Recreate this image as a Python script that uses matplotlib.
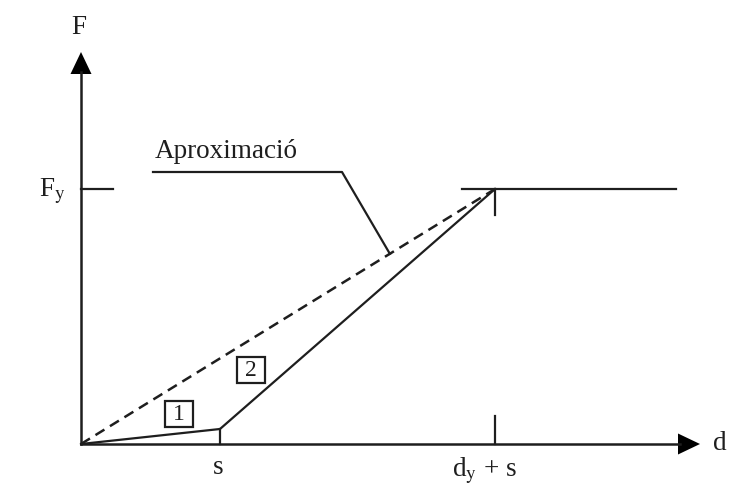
import matplotlib
matplotlib.use("Agg")
import matplotlib.pyplot as plt
from matplotlib.patches import Rectangle

plt.rcParams["font.family"] = ["Liberation Serif", "DejaVu Serif"]
plt.rcParams["mathtext.fontset"] = "stix"

# schematic values (arbitrary units)
s = 1.39          # slip
dy = 2.75         # yield displacement
Fy = 2.55         # yield force
Fs = 0.15         # force reached at end of slip
d_end = 5.95      # end of plateau
x_max = 6.19      # end of d axis
y_max = 3.92      # end of F axis

# curve branches
branch_x = [0, s, s + dy, d_end]
branch_y = [0, Fs, Fy, Fy]

# annotation leader for "Aproximació"
lead_x = [0.72, 2.61]
lead_y = [2.72, 2.72]
lead_frac = 0.746  # point on the dashed line the leader touches

# branch number labels
branch_ids = ["1", "2"]
id_x = [0.98, 1.695]
id_y = [0.30, 0.745]

col = "#1e1e1e"
lw = 1.6

fig = plt.figure(figsize=(7.38, 4.88), dpi=100)
ax = fig.add_axes([0, 0, 1, 1])
ax.set_xlim(-0.81, 6.57)
ax.set_ylim(-0.44, 4.44)
ax.axis("off")

# axes with arrow heads
ax.plot([0, x_max - 0.2], [0, 0], color=col, lw=lw + 0.2)
ax.plot([0, 0], [0, y_max - 0.2], color=col, lw=lw + 0.2)
ax.arrow(x_max - 0.22, 0, 0.22, 0, head_width=0.21, head_length=0.22,
         length_includes_head=True, fc="black", ec="black", lw=0)
ax.arrow(0, y_max - 0.22, 0, 0.22, head_width=0.21, head_length=0.22,
         length_includes_head=True, fc="black", ec="black", lw=0)

# force-displacement curve (slip + elastic + plateau)
ax.plot(branch_x[:3], branch_y[:3], color=col, lw=lw)
ax.plot([s + dy - 0.33, d_end], [Fy, Fy], color=col, lw=lw)

# approximation (dashed)
ax.plot([0, s + dy], [0, Fy], color=col, lw=1.8, ls=(0, (4.2, 2.6)))

# ticks
ax.plot([0, 0.32], [Fy, Fy], color=col, lw=lw)
ax.plot([s, s], [0, Fs], color=col, lw=lw)
ax.plot([s + dy, s + dy], [0, 0.28], color=col, lw=lw)
ax.plot([s + dy, s + dy], [Fy, Fy - 0.26], color=col, lw=lw)

# leader line to the dashed approximation
px = lead_frac * (s + dy)
py = lead_frac * Fy
ax.plot(lead_x + [px], lead_y + [py], color=col, lw=lw)
ax.text(lead_x[0] + 0.02, lead_y[0] + 0.14, "Aproximació", fontsize=19.5,
        ha="left", va="baseline", color=col)

# labels
fs = 19.5
ax.text(-0.02, 4.17, "F", fontsize=fs, ha="center", va="center", color=col)
ax.text(6.39, 0.01, "d", fontsize=fs, ha="center", va="center", color=col)
ax.text(-0.15, Fy - 0.02, r"F$_{\mathrm{y}}$", fontsize=fs, ha="right",
        va="center", color=col)
ax.text(s - 0.02, -0.24, "s", fontsize=fs, ha="center", va="center", color=col)
ax.text(s + dy - 0.1, -0.27, r"d$_{\mathrm{y}}$ + s", fontsize=fs,
        ha="center", va="center", color=col)

# boxed branch numbers
bw, bh = 0.28, 0.26
for lab, cx, cy in zip(branch_ids, id_x, id_y):
    ax.add_patch(Rectangle((cx - bw / 2, cy - bh / 2), bw, bh, fc="white",
                           ec=col, lw=1.6, zorder=3))
    ax.text(cx, cy - 0.01, lab, fontsize=17, ha="center", va="center",
            color=col, zorder=4)

fig.savefig("out.png", dpi=100, facecolor="white")
